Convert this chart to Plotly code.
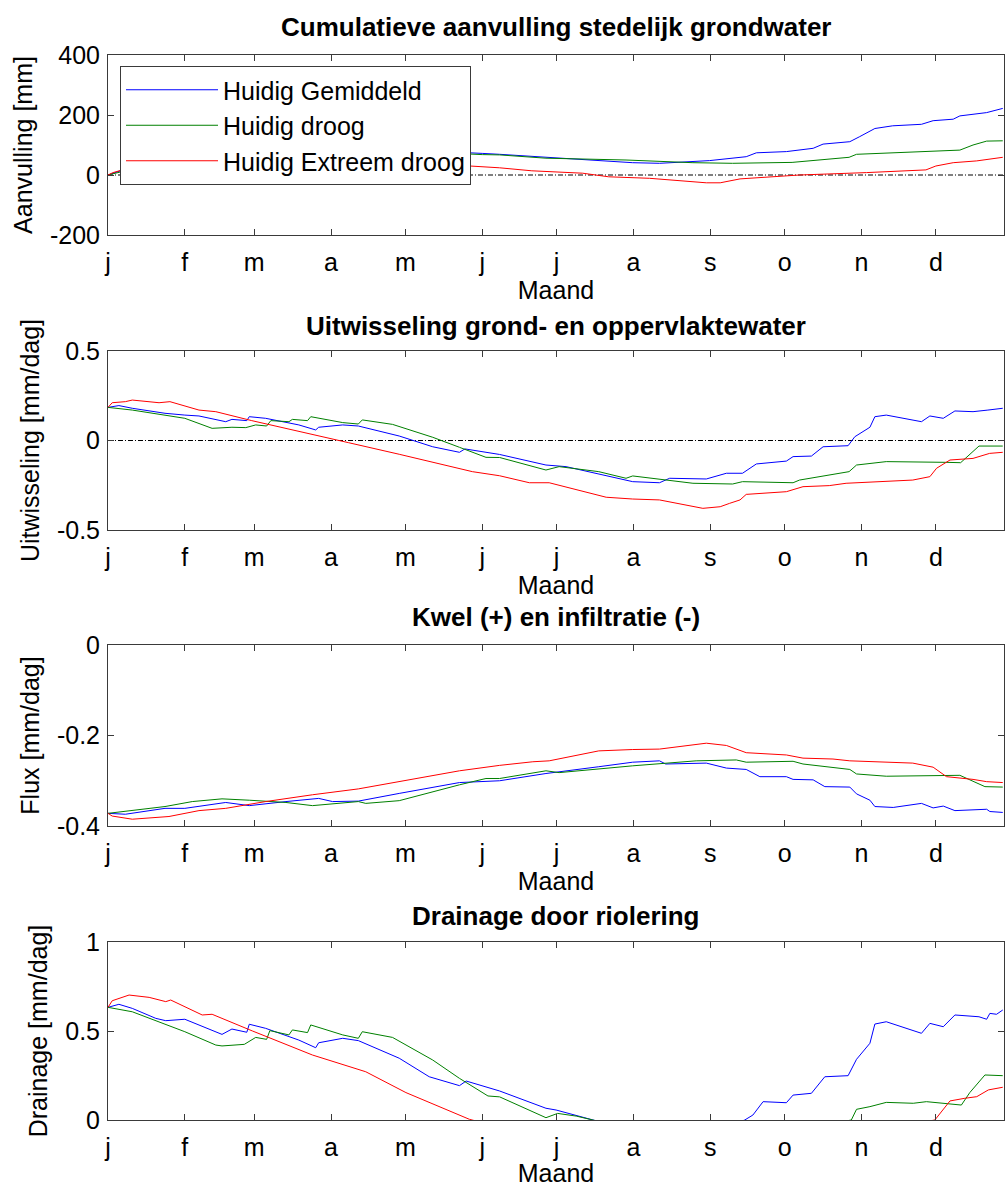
import plotly.graph_objects as go

# ---------------- data ----------------
month_days = [1, 32, 60, 91, 121, 152, 182, 213, 244, 274, 305, 335]
month_labels = ["j", "f", "m", "a", "m", "j", "j", "a", "s", "o", "n", "d"]
series_names = ["Huidig Gemiddeld", "Huidig droog", "Huidig Extreem droog"]
series_colors = ["rgb(0,0,255)", "rgb(0,128,0)", "rgb(255,0,0)"]

panel_titles = ["Cumulatieve aanvulling stedelijk grondwater",
                "Uitwisseling grond- en oppervlaktewater",
                "Kwel (+) en infiltratie (-)",
                "Drainage door riolering"]
y_titles = ["Aanvulling [mm]", "Uitwisseling [mm/dag]", "Flux [mm/dag]", "Drainage [mm/dag]"]
x_title = "Maand"
y_ranges = [[-200, 400], [-0.5, 0.5], [-0.4, 0], [0, 1]]
y_tickvals = [[-200, 0, 200, 400], [-0.5, 0, 0.5], [-0.4, -0.2, 0], [0, 0.5, 1]]
y_ticktext = [["-200", "0", "200", "400"], ["-0.5", "0", "0.5"], ["-0.4", "-0.2", "0"], ["0", "0.5", "1"]]

# Panel 1: cumulative recharge [mm]
p1_blue_day = [1, 3, 6, 15, 30, 45, 60, 75, 90, 105, 120, 135, 152, 159, 179, 212.7, 223.5, 243.7, 258.5, 262.6,
               274.7, 285.5, 289.5, 300.3, 304.3, 310.4, 317.6, 329.2, 333.9, 342, 344.7, 355.5, 362]
p1_blue_val = [0, 6, 14, 30, 50, 65, 80, 88, 92, 90, 85, 78, 72, 69, 59, 41, 39, 48, 61, 74,
               78, 89, 103, 111, 128, 155, 164, 169, 181, 186, 197, 208, 222]
p1_green_day = [1, 3, 6, 15, 30, 45, 60, 75, 90, 105, 120, 135, 152, 159, 177.7, 210, 237, 253, 277, 300,
                303, 344.7, 350, 355.5, 362]
p1_green_val = [0, 4, 10, 25, 45, 60, 72, 82, 88, 86, 80, 74, 68, 67, 56, 50, 41, 39, 42, 59,
                69, 83, 100, 113, 114]
p1_red_day = [1, 3, 6, 15, 30, 45, 60, 75, 90, 105, 120, 135, 152, 159, 172, 192.5, 203, 219.5, 242.4, 248,
              256, 274.7, 280, 307, 331, 335, 342, 351.5, 362]
p1_red_val = [0, 8, 15, 30, 48, 60, 68, 70, 66, 58, 48, 36, 28, 24, 14, 6, -6, -11, -26, -26,
              -13, -3, 0, 8, 17, 30, 41, 47, 59]

# Panel 2: exchange ground/surface water [mm/dag]
p2_blue_day = [1, 5.4, 10.8, 24, 32, 37.7, 48.5, 51, 57, 58, 64.6, 78, 84.8, 86, 95.7, 102, 118.5, 132, 142.8, 145,
               159, 177.7, 185.8, 212.7, 223.5, 227.6, 242.4, 250.5, 257, 262.6, 274.7, 277.4, 284.8, 289.5,
               299.6, 302.3, 308.4, 310.4, 315, 329.2, 332.6, 338, 342.7, 350, 356, 362]
p2_blue_val = [.185, .195, .18, .152, .142, .137, .105, .118, .111, .133, .124, .087, .059, .074, .087, .081, .025,
               -.035, -.066, -.047, -.078, -.137, -.146, -.23, -.236, -.211, -.215, -.183, -.183, -.131, -.115,
               -.09, -.087, -.035, -.029, .021, .074, .133, .142, .105, .137, .124, .165, .161, .17, .18]
p2_green_day = [1, 10.8, 32, 43, 51, 56.6, 60.6, 65, 66.7, 74, 75.4, 81.5, 82.8, 95.7, 102, 103.6, 115.8, 132,
                142.8, 153.5, 159, 177.7, 183, 199, 210, 212.7, 237, 253, 257, 277.4, 280, 300, 303, 315, 339,
                345, 352.4, 362]
p2_green_val = [.185, .17, .124, .068, .074, .072, .087, .081, .111, .105, .118, .111, .133, .1, .092, .115, .09,
                .018, -.038, -.094, -.095, -.165, -.146, -.174, -.211, -.198, -.239, -.243, -.23, -.236, -.221,
                -.174, -.137, -.118, -.122, -.124, -.031, -.031]
p2_red_day = [1, 2.7, 8, 10.8, 21.6, 26, 37.7, 44.5, 59, 83.5, 98, 118.5, 148, 159, 171, 179, 202, 212.7, 223.5,
              241, 248, 251.8, 256, 258.5, 274.7, 281.4, 292, 298.8, 325.7, 332.6, 335.3, 340.7, 350, 356.7, 362]
p2_red_val = [.185, .211, .217, .226, .211, .217, .17, .161, .111, .036, -.012, -.077, -.174, -.197, -.236, -.236,
              -.317, -.327, -.332, -.379, -.37, -.351, -.332, -.301, -.286, -.258, -.252, -.239, -.221, -.202,
              -.155, -.109, -.1, -.072, -.066]

# Panel 3: seepage (+) / infiltration (-) [mm/dag]
p3_blue_day = [1, 8, 24, 32, 48.5, 58, 72.8, 86, 91.6, 102, 118.5, 142.8, 159, 177.7, 199, 212.7, 223.5, 226,
               242.4, 250.5, 258.5, 264, 274.7, 277.4, 285.5, 290.2, 300.3, 303, 308.4, 310.4, 317.8, 329.2,
               333.9, 338, 342.7, 355.5, 356.8, 362]
p3_blue_val = [-.372, -.374, -.361, -.361, -.348, -.355, -.346, -.339, -.346, -.345, -.328, -.304, -.3, -.284,
               -.269, -.259, -.256, -.263, -.261, -.272, -.275, -.291, -.291, -.297, -.298, -.313, -.314, -.329,
               -.343, -.357, -.359, -.35, -.36, -.356, -.366, -.363, -.368, -.37]
p3_green_day = [1, 24, 35, 47, 58, 72.8, 83.5, 102, 105, 118.5, 142.8, 153.5, 159, 177.7, 183, 196.6, 212.7,
                238.3, 254.5, 258.5, 277.4, 281.4, 300.3, 303, 315, 344.7, 354.8, 362]
p3_green_val = [-.372, -.357, -.346, -.34, -.343, -.348, -.355, -.346, -.35, -.344, -.309, -.295, -.295, -.278,
                -.282, -.275, -.267, -.256, -.254, -.259, -.257, -.263, -.275, -.285, -.29, -.288, -.313, -.314]
p3_red_day = [1, 2.7, 10.8, 25.6, 37.7, 48.5, 64.6, 83.5, 102, 118.5, 142.8, 159, 172.4, 179, 199, 212.7, 223.5,
              242.4, 250.5, 258.5, 274.7, 281.4, 293.5, 300.3, 325.7, 333.9, 339.3, 350, 355.5, 362]
p3_red_val = [-.372, -.378, -.385, -.379, -.366, -.361, -.346, -.331, -.318, -.302, -.278, -.266, -.258, -.256,
              -.234, -.231, -.23, -.217, -.222, -.238, -.243, -.25, -.252, -.256, -.261, -.27, -.291, -.297,
              -.302, -.304]

# Panel 4: drainage by sewer [mm/dag]
p4_blue_day = [1, 5.4, 10.8, 20.3, 24.3, 32, 47, 51, 57, 58, 64.6, 78, 84.8, 86, 95.7, 102, 118.5, 130.6, 142.8,
               145.5, 159, 177.7, 181.8, 185.8, 192.6, 196.6, 210, 225, 240, 250, 257.9, 261.2, 265.3, 274.7,
               277.4, 284.8, 290.2, 299.6, 303, 308.4, 310.4, 315, 329.2, 332.6, 338, 342.7, 352.4, 355.5, 356.8,
               359.5, 362]
p4_blue_val = [.633, .65, .627, .571, .558, .566, .481, .511, .493, .538, .515, .449, .406, .434, .459, .446, .347,
               .243, .193, .219, .163, .066, .056, .041, .019, 0, -.05, -.09, -.08, -.04, 0, .028, .103, .097, .14,
               .15, .243, .249, .341, .431, .539, .552, .487, .543, .524, .59, .58, .566, .599, .594, .618]
p4_green_day = [1, 10.8, 32, 44.5, 47, 56, 60.6, 65, 66.3, 74, 75.4, 81.5, 82.8, 95.7, 102, 103.6, 115.8, 132,
                142.8, 154.3, 159, 177.7, 182.4, 189.9, 196.6, 215, 240, 265, 285, 300.9, 303, 308.4, 315, 325.9,
                331.2, 345.3, 348.7, 354.8, 362]
p4_green_val = [.633, .608, .496, .421, .416, .425, .464, .453, .502, .478, .506, .491, .534, .478, .459, .496,
                .464, .337, .234, .135, .13, .013, .037, .022, 0, -.06, -.1, -.08, -.04, 0, .06, .075, .099, .094,
                .103, .084, .154, .253, .249]
p4_red_day = [1, 2.7, 9.5, 17.6, 24.3, 26.3, 39, 43, 59.3, 83.5, 105, 121.2, 146.8, 170, 200, 240, 280, 310,
              334.6, 337.3, 340.7, 346.7, 351.5, 356.2, 362]
p4_red_val = [.633, .67, .702, .689, .665, .674, .59, .594, .5, .365, .271, .154, .004, -.08, -.15, -.18, -.12,
              -.06, 0, .047, .107, .122, .131, .169, .184]

panels = [
    [(p1_blue_day, p1_blue_val), (p1_green_day, p1_green_val), (p1_red_day, p1_red_val)],
    [(p2_blue_day, p2_blue_val), (p2_green_day, p2_green_val), (p2_red_day, p2_red_val)],
    [(p3_blue_day, p3_blue_val), (p3_green_day, p3_green_val), (p3_red_day, p3_red_val)],
    [(p4_blue_day, p4_blue_val), (p4_green_day, p4_green_val), (p4_red_day, p4_red_val)],
]
zero_line_panels = [0, 1]

# ---------------- layout ----------------
W, H = 1005, 1187
FONT = "Liberation Sans, Arial, Helvetica, sans-serif"
x_dom = [108 / W, 1004 / W]
# (top px, bottom px) of each plot box
boxes = [(55, 235), (351, 530), (645, 826), (942, 1120)]
title_y_px = [27, 326, 617, 916]
axis_col = "#3a3a3a"

fig = go.Figure()
layout = dict(width=W, height=H, margin=dict(l=0, r=0, t=0, b=0),
              paper_bgcolor="white", plot_bgcolor="white",
              font=dict(family=FONT, size=25, color="black"),
              showlegend=True,
              legend=dict(x=120 / W, y=1 - 66 / H, xanchor="left", yanchor="top",
                          bgcolor="white", bordercolor=axis_col, borderwidth=1,
                          font=dict(family=FONT, size=25, color="black"),
                          itemwidth=92, tracegroupgap=0))
annotations = []
for i in range(4):
    xa = "xaxis" if i == 0 else f"xaxis{i + 1}"
    ya = "yaxis" if i == 0 else f"yaxis{i + 1}"
    xr = "x" if i == 0 else f"x{i + 1}"
    yr = "y" if i == 0 else f"y{i + 1}"
    top, bot = boxes[i]
    layout[xa] = dict(domain=x_dom, anchor=yr, range=[1, 362.5],
                      tickmode="array", tickvals=month_days, ticktext=month_labels,
                      ticks="inside", ticklen=6, tickcolor=axis_col, tickwidth=1,
                      showline=True, linecolor=axis_col, linewidth=1, mirror="ticks",
                      showgrid=False, zeroline=False, automargin=False,
                      ticklabelstandoff=5,
                      tickfont=dict(family=FONT, size=25, color="black"),
                      title=dict(text=x_title, font=dict(family=FONT, size=25, color="black"), standoff=1))
    layout[ya] = dict(domain=[1 - bot / H, 1 - top / H], anchor=xr, range=y_ranges[i],
                      tickmode="array", tickvals=y_tickvals[i], ticktext=y_ticktext[i],
                      ticks="inside", ticklen=6, tickcolor=axis_col, tickwidth=1,
                      showline=True, linecolor=axis_col, linewidth=1, mirror="ticks",
                      showgrid=False, zeroline=False, automargin=False,
                      ticklabelstandoff=2,
                      tickfont=dict(family=FONT, size=25, color="black"),
                      title=dict(text=y_titles[i], font=dict(family=FONT, size=25, color="black"), standoff=10))
    annotations.append(dict(text="<b>" + panel_titles[i] + "</b>", xref="paper", yref="paper",
                            x=(x_dom[0] + x_dom[1]) / 2, y=1 - title_y_px[i] / H,
                            xanchor="center", yanchor="middle", showarrow=False,
                            font=dict(family=FONT, size=26, color="black")))
    if i in zero_line_panels:
        fig.add_trace(go.Scatter(x=[1, 362.5], y=[0, 0], mode="lines", xaxis=xr, yaxis=yr,
                                 line=dict(color="black", width=1, dash="5px,2px,1px,2px"),
                                 showlegend=False, hoverinfo="skip"))
    for s, (d, v) in enumerate(panels[i]):
        fig.add_trace(go.Scatter(x=d, y=v, mode="lines", xaxis=xr, yaxis=yr,
                                 name=series_names[s],
                                 showlegend=(i == 0),
                                 line=dict(color=series_colors[s], width=1)))

layout["annotations"] = annotations
fig.update_layout(**layout)

fig.write_html("out.html", config={"displayModeBar": False},
               post_script="document.body.style.margin='0';document.body.style.overflow='hidden';")
